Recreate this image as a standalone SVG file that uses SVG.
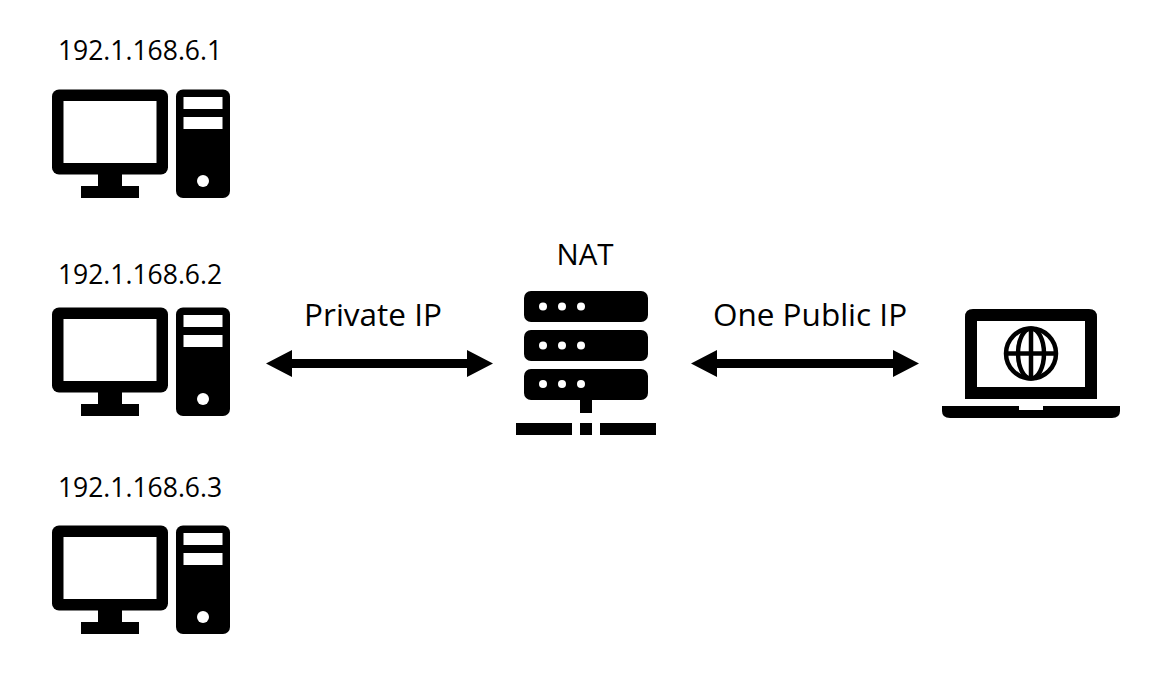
<svg xmlns="http://www.w3.org/2000/svg" width="1158" height="682" viewBox="0 0 1158 682">
<style>
text{font-family:"Open Sans","Noto Sans","Liberation Sans",sans-serif;fill:#000;text-anchor:middle}
.ip{font-size:26.500px}
.nat{font-size:29.500px}
.lbl{font-size:31.500px}
.w{fill:#fff}
.k{fill:#000}
.g{fill:none;stroke:#000;stroke-width:4.5}
</style>
<defs>
<g id="pc">
<rect class="k" x="52" y="89.5" width="116" height="85" rx="7"/>
<rect class="w" x="63.5" y="101" width="93" height="62"/>
<rect class="k" x="98" y="174" width="24" height="13"/>
<rect class="k" x="81" y="186" width="58" height="12"/>
<rect class="k" x="176" y="89.5" width="54" height="108.5" rx="7"/>
<rect class="w" x="183.5" y="97" width="39" height="12"/>
<rect class="w" x="183.5" y="117" width="39" height="12"/>
<circle class="w" cx="203" cy="181" r="6"/>
</g>
<g id="dots">
<circle class="w" cx="543" cy="0" r="4"/>
<circle class="w" cx="562" cy="0" r="4"/>
<circle class="w" cx="581" cy="0" r="4"/>
</g>
</defs>
<g id="node-pc1">
<text class="ip" x="140" y="60">192.1.168.6.1</text>
<use href="#pc"/>
</g>
<g id="node-pc2">
<text class="ip" x="140" y="284">192.1.168.6.2</text>
<use href="#pc" y="218"/>
</g>
<g id="node-pc3">
<text class="ip" x="140" y="497">192.1.168.6.3</text>
<use href="#pc" y="436"/>
</g>
<g id="node-nat">
<text class="nat" x="585" y="265">NAT</text>
<rect class="k" x="524" y="291" width="124" height="31" rx="7"/>
<rect class="k" x="524" y="330" width="124" height="31" rx="7"/>
<rect class="k" x="524" y="369" width="124" height="31" rx="7"/>
<use href="#dots" y="306.5"/>
<use href="#dots" y="345.5"/>
<use href="#dots" y="384"/>
<rect class="k" x="580" y="399" width="12" height="14"/>
<rect class="k" x="516" y="423" width="56" height="12"/>
<rect class="k" x="580" y="423" width="12" height="12"/>
<rect class="k" x="600" y="423" width="56" height="12"/>
</g>
<g id="node-laptop">
<path class="k" d="M973 309H1089Q1097 309 1097 317V399H965V317Q965 309 973 309Z"/>
<rect class="w" x="977" y="321" width="108" height="66"/>
<circle class="g" cx="1031" cy="353.500" r="25"/>
<ellipse class="g" cx="1031" cy="353.500" rx="13" ry="25"/>
<path class="g" d="M1031 328.500V378.500M1006 353.500H1056"/>
<path class="k" d="M942 406H1019V410H1043V406H1120V411Q1120 418 1112 418H950Q942 418 942 411Z"/>
</g>
<g id="connectors">
<path id="edge-private" class="k" d="M266 363.500L292 350V359H467V350L493 363.500L467 377V368H292V377Z"/>
<path id="edge-public" class="k" d="M691 363.500L717 350V359H893V350L919 363.500L893 377V368H717V377Z"/>
</g>
<text class="lbl" x="373" y="326">Private IP</text>
<text class="lbl" x="810" y="326">One Public IP</text>
</svg>
